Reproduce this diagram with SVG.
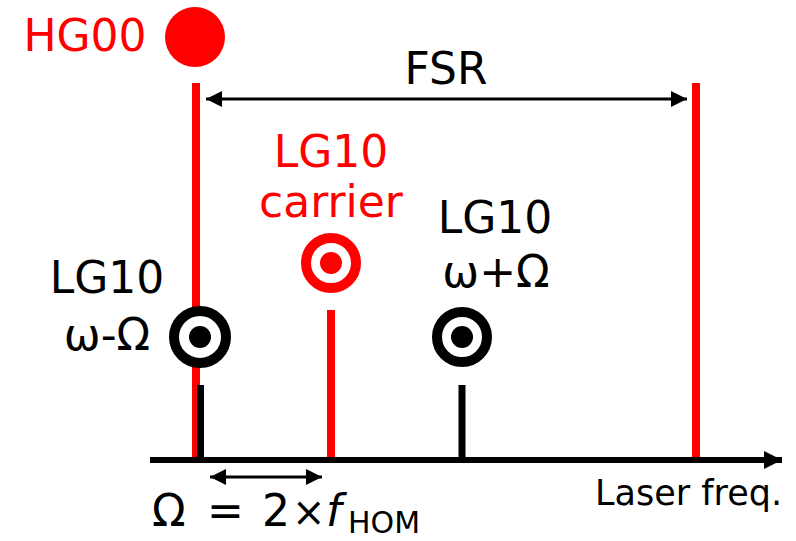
<svg xmlns="http://www.w3.org/2000/svg" width="796" height="541" viewBox="0 0 796 541">
<defs>
<style>
text{font-family:"DejaVu Sans","Verdana",sans-serif;}
.lbl{font-size:44px;fill:#000;}
.red{fill:#FF0000;}
.rline{stroke:#FF0000;stroke-width:8;fill:none;}
.bline{stroke:#000;stroke-width:7;fill:none;}
.arr{stroke:#000;stroke-width:3;fill:none;}
</style>
<marker id="ah" viewBox="0 0 16 16" refX="16" refY="8" markerWidth="16" markerHeight="16" markerUnits="userSpaceOnUse" orient="auto-start-reverse">
<path d="M0,0 L16,8 L0,16 Z" fill="#000"/>
</marker>
<marker id="axh" viewBox="0 0 18 18" refX="18" refY="9" markerWidth="18" markerHeight="18" markerUnits="userSpaceOnUse" orient="auto">
<path d="M0,0 L18,9 L0,18 Z" fill="#000"/>
</marker>
</defs>
<rect width="796" height="541" fill="#fff"/>
<g id="connectors">
<line class="rline" x1="196" y1="83" x2="196" y2="460"/>
<line class="rline" x1="331" y1="310" x2="331" y2="460"/>
<line class="rline" x1="696" y1="83" x2="696" y2="460"/>
<line class="bline" x1="200.5" y1="385" x2="200.5" y2="460"/>
<line class="bline" x1="462" y1="385" x2="462" y2="460"/>
<line x1="150" y1="460" x2="782" y2="460" stroke="#000" stroke-width="6" marker-end="url(#axh)"/>
<line class="arr" x1="206" y1="99" x2="687" y2="99" marker-start="url(#ah)" marker-end="url(#ah)"/>
<line class="arr" x1="210" y1="477" x2="322" y2="477" marker-start="url(#ah)" marker-end="url(#ah)"/>
</g>
<g id="hg00">
<circle cx="195" cy="37" r="30" fill="#FF0000"/>
<text class="lbl red" x="85" y="51" text-anchor="middle">HG00</text>
</g>
<g id="fsr">
<text class="lbl" x="446" y="84" text-anchor="middle">FSR</text>
</g>
<g id="lg10-carrier">
<circle cx="331" cy="263" r="25" fill="#fff" stroke="#FF0000" stroke-width="10"/>
<circle cx="331" cy="263" r="11" fill="#FF0000"/>
<text class="lbl red" x="331" y="167" text-anchor="middle">LG10</text>
<text class="lbl red" x="331" y="217" text-anchor="middle">carrier</text>
</g>
<g id="lg10-minus">
<circle cx="200" cy="337" r="26" fill="#fff" stroke="#000" stroke-width="10"/>
<circle cx="200" cy="337" r="11" fill="#000"/>
<text class="lbl" x="107" y="293" text-anchor="middle">LG10</text>
<text class="lbl" x="107" y="350" text-anchor="middle">ω-Ω</text>
</g>
<g id="lg10-plus">
<circle cx="462" cy="337" r="25" fill="#fff" stroke="#000" stroke-width="10"/>
<circle cx="462" cy="337" r="11" fill="#000"/>
<text class="lbl" x="495" y="233" text-anchor="middle">LG10</text>
<text class="lbl" x="496" y="287" text-anchor="middle">ω+Ω</text>
</g>
<g id="axis-label">
<text x="595" y="505" font-size="35" fill="#000">Laser freq.</text>
</g>
<g id="omega-label">
<text class="lbl" y="526"><tspan x="152">Ω</tspan><tspan x="207">=</tspan><tspan x="262">2</tspan><tspan x="292" font-size="40">×</tspan><tspan x="326" font-style="italic">f</tspan><tspan x="348" y="533" font-size="30">HOM</tspan></text>
</g>
</svg>
